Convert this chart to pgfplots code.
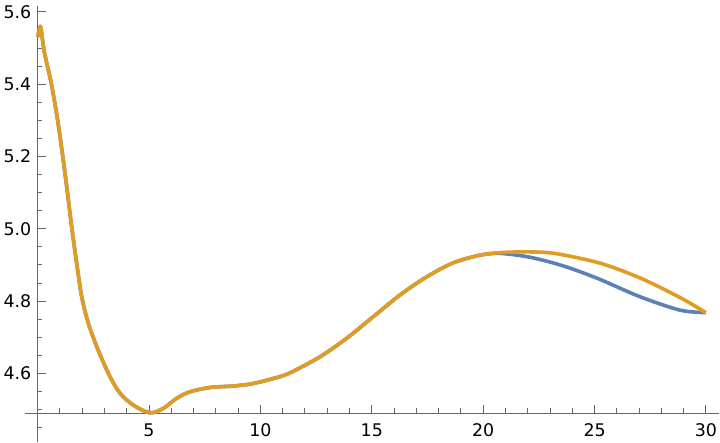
\documentclass[border=0pt]{standalone}
\usepackage{pgfplots}
\pgfplotsset{compat=1.18}
\usepackage{fontspec}
\setmainfont{DejaVu Sans}

\definecolor{axisgray}{RGB}{102,102,102}
\definecolor{mblue}{RGB}{94,129,181}
\definecolor{morange}{RGB}{225,156,36}

\begin{document}
\begin{tikzpicture}
\begin{axis}[
    scale only axis,
    width=347.2pt, height=203.6pt,
    xmin=-0.57, xmax=30.6,
    ymin=4.49, ymax=5.6166,
    axis lines*=middle,
    axis line style={axisgray, line width=0.5pt},
    clip=false,
    xtick={5,10,...,30},
    minor xtick={1,2,...,30},
    ytick={4.6,4.8,5.0,5.2,5.4,5.6},
    minor ytick={4.5,4.55,...,5.61},
    tick align=inside,
    major tick length=4pt,
    minor tick length=2.4pt,
    tick style={axisgray, line width=0.5pt},
    /pgf/number format/assume math mode=true,
    yticklabel={\pgfmathprintnumber[fixed,fixed zerofill,precision=1]{\tick}},
    ticklabel style={font=\fontsize{8.7}{10}\selectfont, text=black, inner sep=0pt},
    xticklabel style={yshift=-4.9pt},
    yticklabel style={xshift=-3pt},
]
\path (axis cs:-1.688,4.41) rectangle (axis cs:30.63,5.633);
\draw[axisgray, line width=0.5pt] (axis cs:0,4.49) -- (axis cs:0,4.41);
\draw[axisgray, line width=0.5pt] (axis cs:0,4.45) -- ++(2.4pt,0pt);

\addplot[mblue, line width=1.8pt, smooth, line join=round] coordinates {
(0.0,5.530) (0.07,5.548) (0.14,5.558) (0.30,5.490) (0.62,5.400)
(0.90,5.300) (1.13,5.200) (1.34,5.100) (1.54,5.000) (1.76,4.902)
(1.98,4.812) (2.28,4.738) (2.72,4.664) (3.25,4.591)
(3.70,4.545) (4.30,4.512) (5.04,4.491) (5.64,4.503) (6.24,4.531)
(6.84,4.549) (7.74,4.561) (8.78,4.565) (9.68,4.572) (10.88,4.591)
(11.48,4.606) (12.68,4.646) (13.87,4.697) (15.07,4.757) (16.27,4.817)
(17.46,4.867) (18.66,4.906) (19.86,4.927) (20.75,4.932) (21.95,4.923)
(23.0,4.908) (24.0,4.889) (25.24,4.860) (27.04,4.812) (28.83,4.775)
(30.0,4.768)
};
\addplot[morange, line width=1.8pt, smooth, line join=round] coordinates {
(0.0,5.530) (0.07,5.548) (0.14,5.558) (0.30,5.490) (0.62,5.400)
(0.90,5.300) (1.13,5.200) (1.34,5.100) (1.54,5.000) (1.76,4.902)
(1.98,4.812) (2.28,4.738) (2.72,4.664) (3.25,4.591)
(3.70,4.545) (4.30,4.512) (5.04,4.491) (5.64,4.503) (6.24,4.531)
(6.84,4.549) (7.74,4.561) (8.78,4.565) (9.68,4.572) (10.88,4.591)
(11.48,4.606) (12.68,4.646) (13.87,4.697) (15.07,4.757) (16.27,4.817)
(17.46,4.867) (18.66,4.906) (19.86,4.927) (20.75,4.934) (21.95,4.936)
(23.2,4.932) (25.24,4.905) (27.04,4.864) (28.83,4.810) (30.0,4.768)
};
\end{axis}
\end{tikzpicture}
\end{document}
